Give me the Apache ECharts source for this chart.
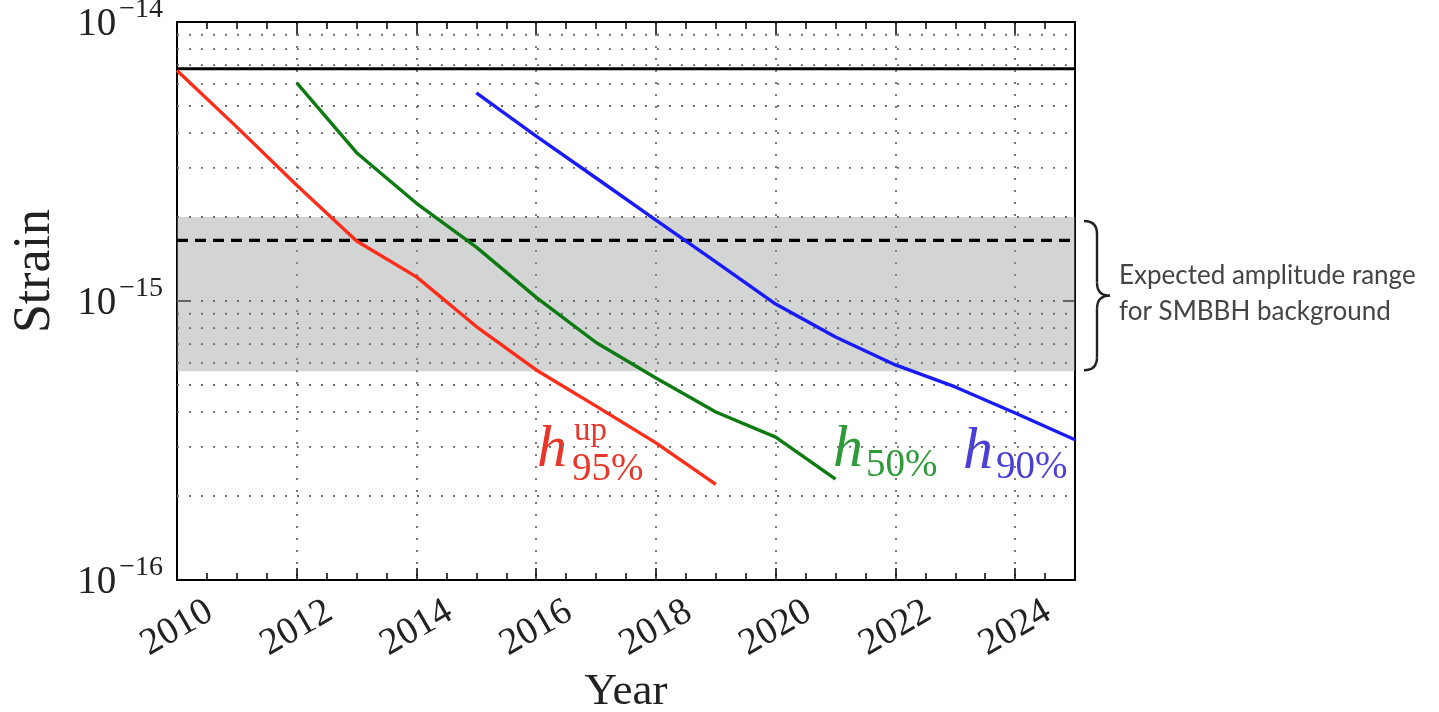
<!DOCTYPE html>
<html>
<head>
<meta charset="utf-8">
<script src="https://cdn.jsdelivr.net/npm/echarts@6/dist/echarts.min.js"></script>
<style>
html,body{margin:0;padding:0;background:#fff;}
#chart{width:1439px;height:712px;}
</style>
</head>
<body>
<div id="chart"></div>
<script>
// ---- data ----
const redYears   = [2010, 2011, 2012, 2013, 2014, 2015, 2016, 2017, 2018, 2019];
const redValues  = [6.7e-15, 4.2e-15, 2.6e-15, 1.64e-15, 1.22e-15, 8.1e-16, 5.66e-16, 4.2e-16, 3.1e-16, 2.2e-16];
const greenYears = [2012, 2013, 2014, 2015, 2016, 2017, 2018, 2019, 2020, 2021];
const greenValues= [6.05e-15, 3.4e-15, 2.24e-15, 1.56e-15, 1.03e-15, 7.1e-16, 5.3e-16, 4.0e-16, 3.25e-16, 2.3e-16];
const blueYears  = [2015, 2016, 2017, 2018, 2019, 2020, 2021, 2022, 2023, 2024, 2025];
const blueValues = [5.57e-15, 3.9e-15, 2.76e-15, 1.95e-15, 1.38e-15, 9.75e-16, 7.43e-16, 5.9e-16, 4.92e-16, 3.97e-16, 3.18e-16];
const upperLimit = 6.8e-15;        // solid black line
const expectedLevel = 1.65e-15;    // dashed black line
const bandRange = [5.6e-16, 2.0e-15];
const gridValues = [2e-16,3e-16,4e-16,5e-16,6e-16,7e-16,8e-16,9e-16,1e-15,2e-15,3e-15,4e-15,5e-15,6e-15,7e-15,8e-15,9e-15];
const xMin = 2010, xMax = 2025, xInterval = 2;
const bandText = ['Expected amplitude range', 'for SMBBH background'];

function zip(xs, ys){ return xs.map((x,i)=>[x, ys[i]]); }
function hline(v){ return [[xMin, v], [xMax, v]]; }

const serif = '"Liberation Serif", "DejaVu Serif", serif';
const chart = echarts.init(document.getElementById('chart'));

const yLabel = {
  formatter: function(v){
    const e = Math.round(Math.log10(v));
    return '{b|10}{s|\u2212' + Math.abs(e) + '}';
  },
  margin: 14,
  rich: {
    b: {fontFamily: serif, fontSize: 39, color: '#222', verticalAlign: 'bottom', lineHeight: 44},
    s: {fontFamily: serif, fontSize: 28, color: '#222', verticalAlign: 'bottom', lineHeight: 44, padding: [0,0,20,3]}
  }
};

const dotted = {type: [2, 10], color: '#6a6a6a', width: 1.8};

const gridSeries = gridValues.map(v => ({
  type: 'line', data: hline(v), showSymbol: false, silent: true, z: 2,
  lineStyle: dotted, animation: false
}));

const option = {
  backgroundColor: '#ffffff',
  animation: false,
  grid: {left: 177, right: 364, top: 22, bottom: 132, containLabel: false, outerBoundsMode: 'none'},
  xAxis: [{
    type: 'value', min: xMin, max: xMax, interval: xInterval,
    name: 'Year', nameLocation: 'middle', nameGap: 90,
    nameTextStyle: {fontFamily: serif, fontSize: 45, color: '#222'},
    axisLine: {show: true, lineStyle: {color: '#000', width: 2}},
    axisTick: {show: true, inside: true, length: 12, lineStyle: {color: '#000', width: 1.5}},
    minorTick: {show: true, splitNumber: 4, length: 7, lineStyle: {color: '#000', width: 1.5}},
    axisLabel: {
      showMaxLabel: false, rotate: 30, align: 'center', verticalAlign: 'middle', margin: 48,
      fontFamily: serif, fontSize: 38, color: '#222',
      formatter: v => String(v)
    },
    splitLine: {show: true, lineStyle: dotted}
  }, {
    type: 'value', min: xMin, max: xMax, interval: xInterval, position: 'top',
    axisLine: {show: true, lineStyle: {color: '#000', width: 2}},
    axisTick: {show: true, inside: true, length: 12, lineStyle: {color: '#000', width: 1.5}},
    minorTick: {show: true, splitNumber: 4, length: 7, lineStyle: {color: '#000', width: 1.5}},
    axisLabel: {show: false},
    splitLine: {show: false}
  }],
  yAxis: [{
    type: 'log', logBase: 10, min: 1e-16, max: 1e-14,
    name: 'Strain', nameLocation: 'middle', nameGap: 116, nameRotate: 90,
    nameTextStyle: {fontFamily: serif, fontSize: 52, color: '#222', padding: [0, 0, 0, 60]},
    axisLine: {show: true, lineStyle: {color: '#000', width: 2}},
    axisTick: {show: true, inside: true, length: 12, lineStyle: {color: '#000', width: 1.5}},
    axisLabel: yLabel,
    splitLine: {show: false}
  }, {
    type: 'log', logBase: 10, min: 1e-16, max: 1e-14, position: 'right',
    axisLine: {show: true, lineStyle: {color: '#000', width: 2}},
    axisTick: {show: true, inside: true, length: 12, lineStyle: {color: '#000', width: 1.5}},
    axisLabel: {show: false},
    splitLine: {show: false}
  }],
  series: [
    {
      name: 'band', type: 'line', data: [], z: 1, silent: true,
      markArea: {
        silent: true,
        itemStyle: {color: 'rgba(150,156,156,0.42)'},
        data: [[{yAxis: bandRange[0]}, {yAxis: bandRange[1]}]]
      }
    },
    ...gridSeries,
    {name: 'upper', type: 'line', data: hline(upperLimit), showSymbol: false, silent: true, z: 4,
     lineStyle: {color: '#000', width: 3}},
    {name: 'expected', type: 'line', data: hline(expectedLevel), showSymbol: false, silent: true, z: 4,
     lineStyle: {color: '#000', width: 3.2, type: [11, 7]}},
    {name: 'h95', type: 'line', data: zip(redYears, redValues), showSymbol: false, z: 5,
     lineStyle: {color: '#ff2d1a', width: 3.4}},
    {name: 'h50', type: 'line', data: zip(greenYears, greenValues), showSymbol: false, z: 5,
     lineStyle: {color: '#0e7a12', width: 3.4}},
    {name: 'h90', type: 'line', data: zip(blueYears, blueValues), showSymbol: false, z: 5,
     lineStyle: {color: '#1a1aff', width: 3.4}}
  ]
};
chart.setOption(option);

// annotations positioned from the axes
function px(x, v){ return chart.convertToPixel({gridIndex: 0}, [x, v]); }
const bTop = px(xMax, bandRange[1]);
const bBot = px(xMax, bandRange[0]);
const x0 = bTop[0] + 9, x1 = x0 + 13, x2 = x0 + 26;
const yT = bTop[1] + 4, yB = bBot[1] - 1, yM = (yT + yB) / 2, r = 13;
const braceStyle = {fill: null, stroke: '#222', lineWidth: 2.4};
function curve(ax, ay, cx, cy, bx, by){
  return {type: 'bezierCurve', shape: {x1: ax, y1: ay, cpx1: cx, cpy1: cy, x2: bx, y2: by}, style: braceStyle};
}
function seg(ax, ay, bx, by){
  return {type: 'line', shape: {x1: ax, y1: ay, x2: bx, y2: by}, style: braceStyle};
}

const italic = {fontFamily: serif, fontStyle: 'italic', fontSize: 60};
function txt(x, y, text, color, extra){
  return {type: 'text', x: x, y: y, style: Object.assign({text: text, fill: color, fontFamily: serif, fontSize: 39, verticalAlign: 'middle', align: 'left'}, extra || {})};
}
const red = '#e8362a', green = '#2f9a3a', blue = '#4a3fd6';
const sans = 'Lato, "Open Sans", sans-serif';
chart.setOption({
  graphic: [
    curve(x0, yT, x1, yT, x1, yT + r),
    seg(x1, yT + r, x1, yM - r),
    curve(x1, yM - r, x1, yM, x2, yM),
    curve(x2, yM, x1, yM, x1, yM + r),
    seg(x1, yM + r, x1, yB - r),
    curve(x1, yB - r, x1, yB, x0, yB),
    {type: 'text', x: x2 + 9, y: yM - 20, style: {text: bandText[0], fill: '#444', fontFamily: sans, fontSize: 26, verticalAlign: 'middle'}},
    {type: 'text', x: x2 + 9, y: yM + 16, style: {text: bandText[1], fill: '#444', fontFamily: sans, fontSize: 26, verticalAlign: 'middle'}},
    txt(537, 450, 'h', red, italic),
    txt(574, 431, 'up', red, {fontSize: 33}),
    txt(572, 470, '95%', red),
    txt(833, 450, 'h', green, italic),
    txt(866, 466, '50%', green),
    txt(963, 452, 'h', blue, italic),
    txt(996, 468, '90%', blue)
  ]
});
</script>
</body>
</html>
